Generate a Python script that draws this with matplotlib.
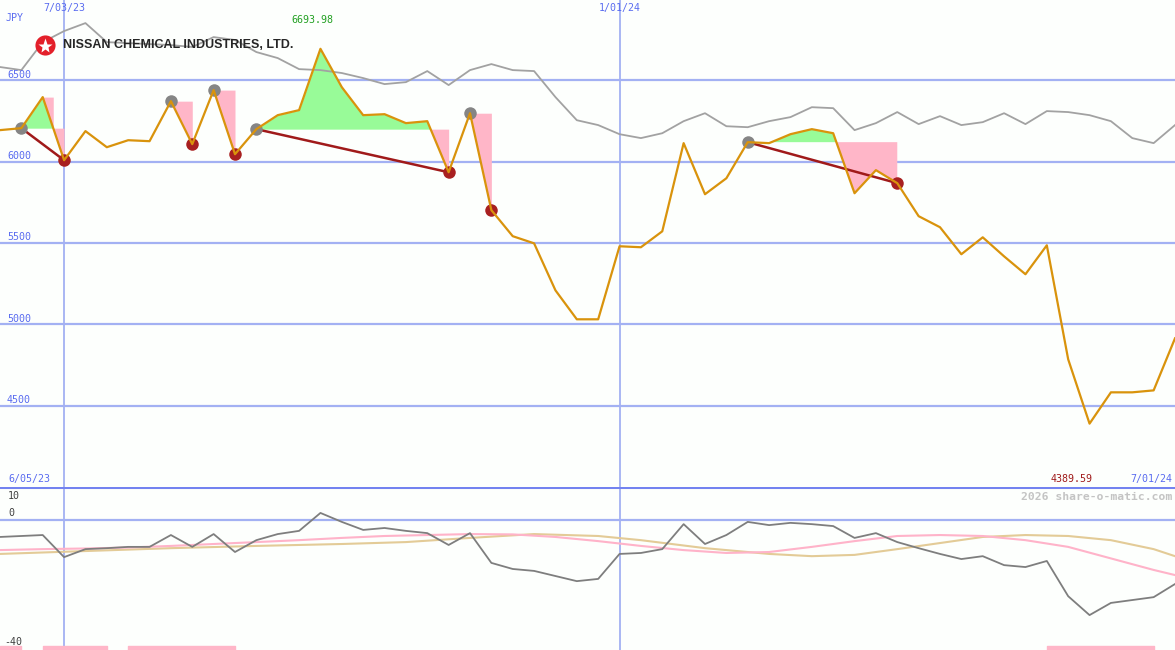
import numpy as np
import matplotlib.pyplot as plt
from matplotlib.transforms import blended_transform_factory

# weekly closes, 6/12/23 .. 7/01/24
price = [6194, 6206, 6397, 6009, 6188, 6089, 6132, 6126, 6372, 6108,
         6440, 6046, 6200, 6286, 6317, 6693.98, 6458, 6286, 6292, 6237,
         6249, 5935, 6298, 5702, 5542, 5498, 5209, 5031, 5031, 5480,
         5474, 5572, 6114, 5800, 5898, 6120, 6114, 6169, 6200, 6175,
         5806, 5948, 5868, 5665, 5597, 5431, 5535, 5418, 5308, 5486,
         4785, 4389.59, 4582, 4582, 4594, 4914]
# comparison index (scaled onto price axis)
compare = [6582, 6563, 6735, 6803, 6852, 6735, 6729, 6723, 6717, 6705,
           6766, 6748, 6674, 6637, 6569, 6563, 6545, 6514, 6477, 6489,
           6557, 6471, 6563, 6600, 6563, 6557, 6397, 6255, 6225, 6169,
           6145, 6175, 6249, 6298, 6218, 6212, 6249, 6274, 6335, 6329,
           6194, 6237, 6305, 6231, 6280, 6225, 6243, 6298, 6231, 6311,
           6305, 6286, 6249, 6145, 6114, 6225]
# lower panel oscillator
osc = [-5.3, -5.0, -4.7, -11.6, -9.1, -8.8, -8.4, -8.4, -4.7, -8.4,
       -4.4, -10.0, -6.3, -4.4, -3.4, 2.2, -0.6, -3.1, -2.5, -3.4,
       -4.1, -7.8, -4.1, -13.4, -15.3, -15.9, -17.5, -19.1, -18.4, -10.6,
       -10.3, -9.1, -1.3, -7.5, -4.7, -0.6, -1.6, -0.9, -1.3, -1.9,
       -5.6, -4.1, -6.9, -8.8, -10.6, -12.2, -11.3, -14.1, -14.7, -12.8,
       -23.8, -29.7, -25.9, -25.0, -24.1, -20.0]
pink_idx = [0, 2, 4, 6, 8, 10, 12, 14, 16, 18, 20, 22, 24, 26, 28, 30,
            32, 34, 36, 38, 40, 42, 44, 46, 48, 50, 52, 54, 55]
pink_val = [-9.4, -9.1, -8.9, -8.6, -8.1, -7.5, -6.9, -6.3, -5.6, -5.0,
            -4.7, -4.4, -4.5, -5.3, -6.6, -8.1, -9.4, -10.3, -10.0, -8.4,
            -6.6, -5.0, -4.7, -5.0, -6.3, -8.4, -12.0, -15.6, -17.2]
tan_idx = [0, 4, 8, 12, 16, 19, 22, 25, 28, 30, 33, 36, 38, 40, 42, 44,
           46, 48, 50, 52, 54, 55]
tan_val = [-10.6, -9.7, -8.8, -8.1, -7.5, -6.9, -5.6, -4.4, -5.0, -6.3,
           -8.8, -10.6, -11.3, -10.9, -9.1, -7.2, -5.3, -4.7, -5.0, -6.3,
           -9.1, -11.3]
signal_spans = [(0, 1), (2, 5), (6, 11), (49, 54)]

highs = [1, 8, 10, 12, 22, 35]
lows = [3, 9, 11, 21, 23, 42]
trends = [(1, 3), (12, 21), (35, 42)]

price_ticks = [6500, 6000, 5500, 5000, 4500]
date_idx = [3, 29]
date_labels = ['7/03/23', '1/01/24']

idx = np.arange(len(price))
bg = '#fdfffd'
grid = '#a3b1f3'
blue_txt = '#5a6cf0'
orange = '#d9930c'
green_fill = '#98fb98'
pink_fill = '#ffb6c8'
mono = 'DejaVu Sans Mono'

fig = plt.figure(figsize=(11.75, 6.5), dpi=100, facecolor=bg)
ax = fig.add_axes([0, 163 / 650, 1, 487 / 650])
ax2 = fig.add_axes([0, 0, 1, 163 / 650])
for a in (ax, ax2):
    a.set_facecolor(bg)
    a.set_xlim(0, len(price) - 1)
    a.axis('off')
ax.set_ylim(4000, 6994)
ax2.set_ylim(-40.6, 10.3)

for p in price_ticks:
    ax.axhline(p, color=grid, lw=1.6, zorder=1)
for d in date_idx:
    ax.axvline(d, color=grid, lw=1.3, zorder=1)
    ax2.axvline(d, color=grid, lw=1.3, zorder=1)

# swing fills: above the swing-high level green, below it pink
for i, j in zip(highs, lows):
    xs = np.linspace(i, j, 400)
    ps = np.interp(xs, idx, price)
    lvl = price[i]
    ax.fill_between(xs, ps, lvl, where=ps >= lvl, color=green_fill, lw=0,
                    interpolate=True, zorder=2)
    ax.fill_between(xs, ps, lvl, where=ps < lvl, color=pink_fill, lw=0,
                    interpolate=True, zorder=2)
# first swing: extra drop from the local top down to the level
c = 2 + (price[2] - price[1]) / (price[2] - price[3])
xs = np.linspace(2, c, 100)
ax.fill_between(xs, np.interp(xs, idx, price), price[2], color=pink_fill,
                lw=0, zorder=2)

ax.plot(idx, compare, color='#a2a2a2', lw=1.3, zorder=3)
for i, j in trends:
    ax.plot([i, j], [price[i], price[j]], color='#a01a1a', lw=1.8, zorder=4)
ax.plot(highs, [price[i] for i in highs], 'o', color='#858585', ms=9,
        mec='none', zorder=5)
ax.plot(lows, [price[i] for i in lows], 'o', color='#a82020', ms=9,
        mec='none', zorder=5)
ax.plot(idx, price, color=orange, lw=1.6, zorder=6)

yt = blended_transform_factory(ax.transAxes, ax.transData)
for p in price_ticks:
    ax.text(0.006, p + 4, str(p), transform=yt, fontsize=7.2, family=mono,
            color=blue_txt, va='bottom', ha='left', zorder=7)
ax.text(0.005, 1 - 18 / 487, 'JPY', transform=ax.transAxes, fontsize=7.2,
        family=mono, color=blue_txt, va='center', zorder=7)
xt = blended_transform_factory(ax.transData, ax.transAxes)
for d, lab in zip(date_idx, date_labels):
    ax.text(d, 1 - 8 / 487, lab, transform=xt, fontsize=7.2, family=mono,
            color=blue_txt, ha='center', va='center', zorder=7)
ax.text(15 - 0.4, 1 - 20 / 487, f'{max(price):.2f}', transform=xt,
        fontsize=7.2, family=mono, color='#22a022', ha='center', va='center')
ax.text(51 - 0.85, 8 / 487, f'{min(price):.2f}', transform=xt,
        fontsize=7.2, family=mono, color='#a01a1a', ha='center', va='center')
ax.text(0.007, 8 / 487, '6/05/23', transform=ax.transAxes, fontsize=7.2,
        family=mono, color=blue_txt, va='center')
ax.text(0.9975, 8 / 487, '7/01/24', transform=ax.transAxes, fontsize=7.2,
        family=mono, color=blue_txt, va='center', ha='right')

# logo + company name
ax.plot([45 / 1175], [1 - 45 / 487], 'o', color='#e3202a', ms=14.5,
        mec='none', transform=ax.transAxes, zorder=8, clip_on=False)
ax.plot([45 / 1175], [1 - 45.5 / 487], '*', color='white', ms=11,
        mec='none', transform=ax.transAxes, zorder=9, clip_on=False)
fig.text(63 / 1175, 1 - 45 / 650, 'NISSAN CHEMICAL INDUSTRIES, LTD.',
         fontsize=9.0, fontweight='bold',
         family=['Liberation Sans Narrow', 'Liberation Sans'],
         color='#262626', va='center', ha='left', zorder=10)

# lower panel
ax2.axhline(10.3, color='#7383f0', lw=2.2, zorder=3)
ax2.axhline(0, color=grid, lw=1.6, zorder=1)
ax2.broken_barh([(s, e - s) for s, e in signal_spans], (-40.6, 1.3),
                color=pink_fill, zorder=2)
ax2.plot(tan_idx, tan_val, color='#e3cb97', lw=1.5, zorder=3)
ax2.plot(pink_idx, pink_val, color='#ffb3c9', lw=1.5, zorder=3)
ax2.plot(idx, osc, color='#7e7e7e', lw=1.3, zorder=4)
lt = blended_transform_factory(ax2.transAxes, ax2.transData)
ax2.text(0.007, 7.5, '10', transform=lt, fontsize=7.2, family=mono,
         color='#404040', va='center')
ax2.text(0.007, 0.6, '0', transform=lt, fontsize=7.2, family=mono,
         color='#404040', va='bottom')
ax2.text(0.004, -39.6, '-40', transform=lt, fontsize=7.2, family=mono,
         color='#404040', va='bottom')
ax2.text(0.9975, 7.2, '2026 share-o-matic.com', transform=lt, fontsize=8.2,
         family=mono, fontweight='bold', color='#c4c4c4', va='center',
         ha='right')

fig.savefig('out.png', dpi=100, facecolor=bg)
